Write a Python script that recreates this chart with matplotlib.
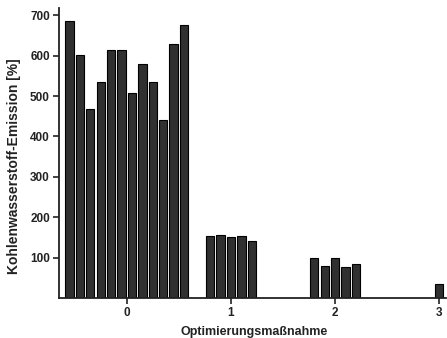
import matplotlib
matplotlib.use("Agg")
import matplotlib.pyplot as plt
import numpy as np

# Data
pos_group0 = [-0.55, -0.45, -0.35, -0.25, -0.15, -0.05, 0.05, 0.15, 0.25, 0.35, 0.45, 0.55]
val_group0 = [686, 601, 469, 535, 615, 613, 507, 580, 535, 440, 628, 676]
pos_group1 = [0.8, 0.9, 1.0, 1.1, 1.2]
val_group1 = [154, 157, 151, 154, 142]
pos_group2 = [1.8, 1.9, 2.0, 2.1, 2.2]
val_group2 = [100, 78, 98, 77, 85]
pos_group3 = [3.0]
val_group3 = [34]

xticks = [0, 1, 2, 3]
yticks = [100, 200, 300, 400, 500, 600, 700]
xlabel = "Optimierungsmaßnahme"
ylabel = "Kohlenwasserstoff-Emission [%]"

plt.rcParams['font.family'] = ['Liberation Sans', 'DejaVu Sans']
plt.rcParams['font.weight'] = 'bold'

fig = plt.figure(figsize=(4.47, 3.38), dpi=100)
ax = fig.add_axes([59/447, 1-298/338, (446-59)/447, (298-8)/338])

positions = pos_group0 + pos_group1 + pos_group2 + pos_group3
values = val_group0 + val_group1 + val_group2 + val_group3
ax.bar(positions, values, width=0.08, color='#303030', edgecolor='black', linewidth=0.8, zorder=2)

ax.set_xlim(-0.65, 3.064)
ax.set_ylim(0, 718)
ax.set_xticks(xticks)
ax.set_xticklabels([str(t) for t in xticks])
ax.set_yticks(yticks)
ax.set_yticklabels([str(t) for t in yticks])

for s in ['top', 'right']:
    ax.spines[s].set_visible(False)
for s in ['left', 'bottom']:
    ax.spines[s].set_linewidth(1.3)
    ax.spines[s].set_color('#222222')

ax.tick_params(axis='both', direction='out', length=4.5, width=1.2, labelsize=8.5, colors='#222222', pad=2)
for lab in ax.get_xticklabels() + ax.get_yticklabels():
    lab.set_fontweight('bold')

ax.set_xlabel(xlabel, fontsize=9, fontweight='bold', color='#222222')
ax.set_ylabel(ylabel, fontsize=10, fontweight='bold', color='#222222')
ax.xaxis.set_label_coords((254-59)/387, -(326-298)/290)
ax.yaxis.set_label_coords((21-59)/387, (298-166)/290)

fig.savefig("out.png", dpi=100, facecolor='white')
